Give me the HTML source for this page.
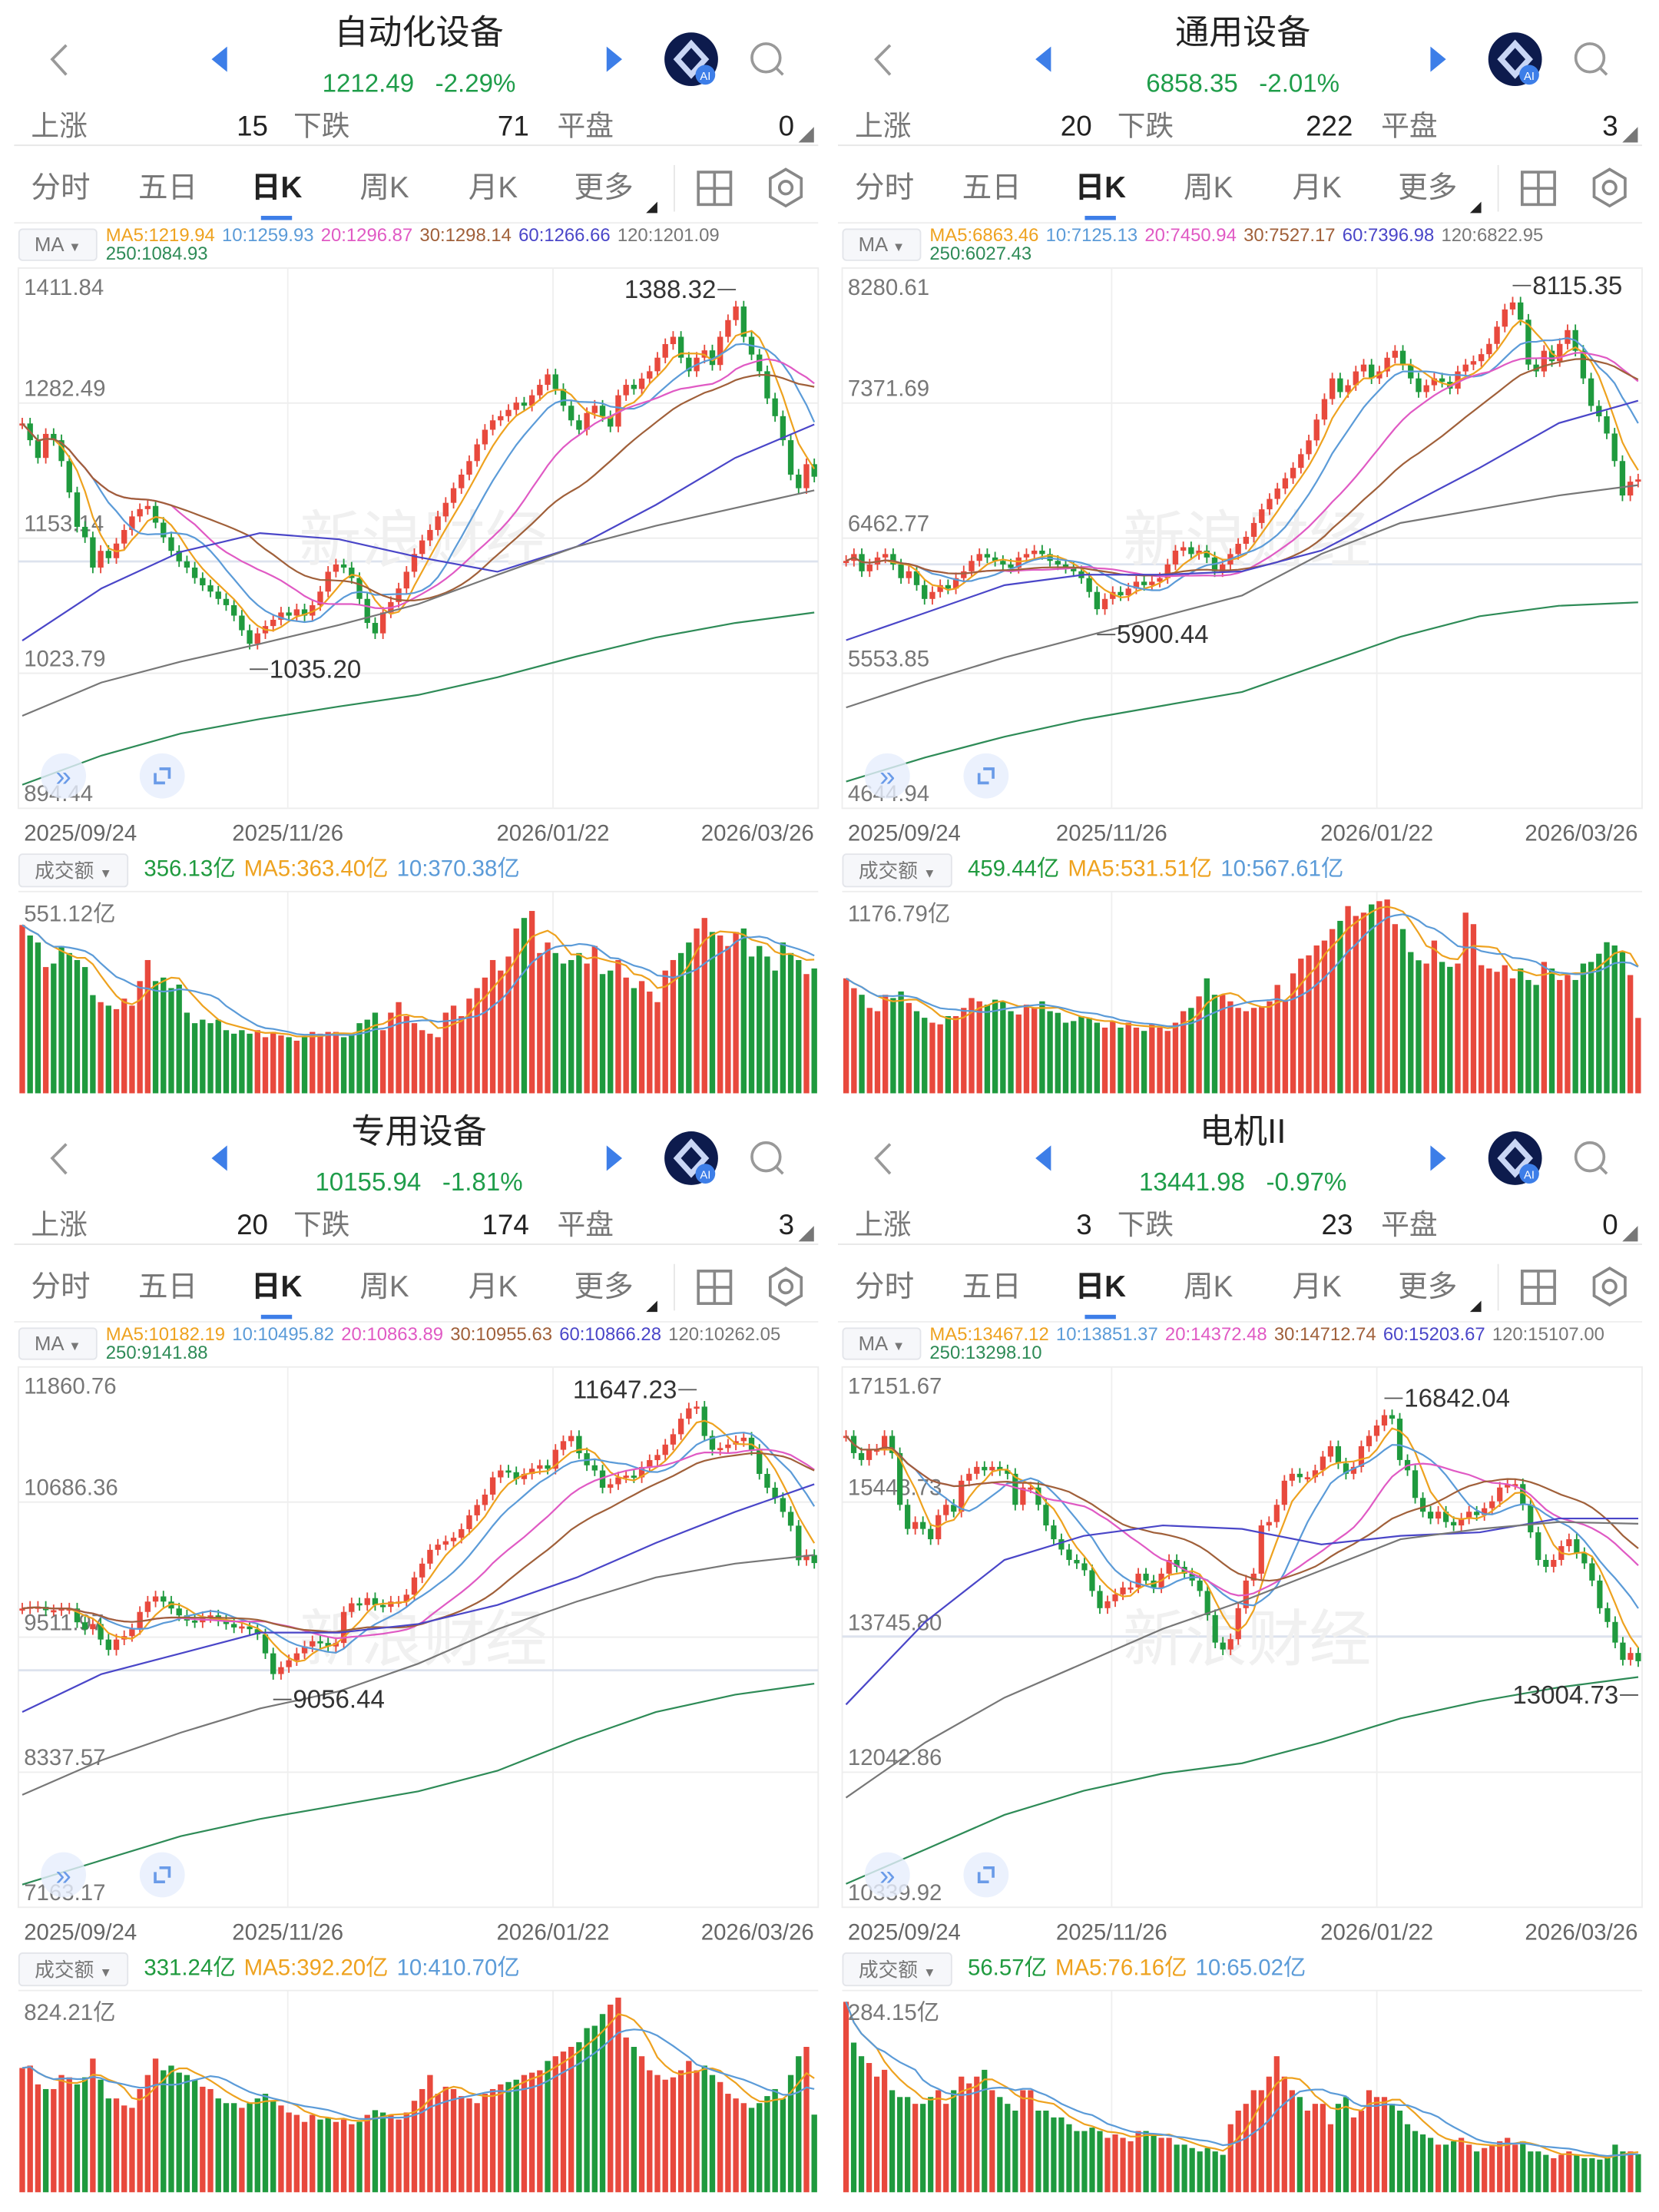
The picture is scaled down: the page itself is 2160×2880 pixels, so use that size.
<!DOCTYPE html>
<html><head><meta charset="utf-8">
<style>
html,body{margin:0;padding:0;background:#fff;}
body{width:2160px;height:2880px;overflow:hidden;}
#stage{position:absolute;left:0;top:0;width:1176px;height:1568px;transform:scale(1.83673);transform-origin:0 0;font-family:"Liberation Sans","Noto Sans CJK SC",sans-serif;}
.panel{position:absolute;width:584px;height:779px;}
.abs{position:absolute;white-space:nowrap;}
.title{left:147px;width:300px;top:8px;height:32px;line-height:32px;text-align:center;font-size:24px;color:#222;}
.price{left:147px;width:300px;top:48px;height:22px;line-height:22px;text-align:center;font-size:18px;color:#1f9d4a;}
.stat{top:77px;height:26px;line-height:26px;font-size:20px;color:#777;}
.num{top:77px;height:26px;line-height:26px;font-size:20px;color:#222;text-align:right;width:60px;}
.tab{top:120px;height:28px;line-height:28px;font-size:21px;color:#777;}
.leg{font-size:13px;left:75px;height:14px;line-height:14px;}
.leg span{margin-right:5px;}
.box{border:1px solid #e3e5ea;background:#f6f7fa;border-radius:3px;color:#777;font-size:14px;text-align:center;}
.vleg{top:606px;font-size:16px;left:102px;height:22px;line-height:22px;}
.vleg span{margin-right:6px;}
</style></head>
<body>
<div id="stage"></div>
<script>
// ===== Panel 1: 自动化设备 =====
const p1Closes=[1263,1247,1230,1253,1247,1227,1197,1164,1154,1125,1141,1134,1148,1161,1174,1181,1184,1168,1154,1141,1131,1125,1115,1108,1102,1095,1089,1079,1065,1052,1062,1069,1075,1082,1079,1085,1079,1089,1102,1121,1128,1125,1115,1095,1072,1062,1082,1092,1105,1121,1138,1151,1161,1174,1187,1201,1214,1227,1243,1257,1266,1270,1276,1283,1280,1290,1300,1310,1296,1280,1266,1257,1273,1280,1270,1260,1290,1300,1296,1306,1313,1326,1339,1346,1326,1313,1326,1333,1319,1346,1362,1375,1346,1329,1313,1287,1270,1247,1214,1201,1224,1212];
const p1Vol=[480,450,430,360,370,420,400,380,360,280,260,250,240,270,250,320,380,320,330,300,310,230,200,210,200,210,180,170,180,170,180,160,175,165,160,150,160,175,170,175,175,160,170,200,210,230,180,230,260,220,200,180,170,160,230,250,220,270,300,330,380,350,390,470,500,520,400,430,400,370,380,400,370,420,340,350,380,330,300,320,290,260,350,380,400,430,470,500,460,450,420,460,470,390,420,390,350,430,400,380,340,356];
const p1Ma60=[1055,1105,1140,1158,1152,1135,1121,1145,1185,1230,1262];
const p1Ma120=[983,1015,1035,1052,1070,1090,1118,1145,1165,1182,1199];
const p1Ma250=[917,945,966,980,992,1003,1020,1040,1058,1072,1082];
const p1YTicks=['1411.84','1282.49','1153.14','1023.79','894.44'];
const p1VolMax='551.12亿';
const p1Marks=['1388.32','1035.20'];
// ===== Panel 2: 通用设备 =====
const p2Closes=[6310,6356,6240,6286,6333,6356,6286,6194,6240,6147,6054,6101,6147,6124,6194,6240,6310,6356,6333,6310,6286,6263,6333,6356,6379,6356,6310,6286,6263,6240,6194,6101,5985,6054,6101,6078,6124,6170,6147,6170,6194,6286,6379,6402,6356,6379,6333,6240,6286,6356,6425,6472,6565,6657,6727,6797,6866,6936,7028,7121,7261,7399,7538,7446,7492,7585,7631,7538,7585,7677,7724,7631,7538,7446,7492,7538,7515,7469,7585,7631,7654,7701,7770,7886,8002,8049,7933,7631,7585,7724,7654,7770,7863,7724,7538,7353,7283,7167,6982,6750,6843,6858];
const p2Vol=[700,640,600,520,500,600,580,620,550,500,460,430,420,470,470,520,580,560,540,570,560,500,480,540,520,560,500,490,430,440,470,460,430,400,440,400,430,400,380,420,400,380,430,500,520,590,700,600,600,560,520,500,520,530,560,660,560,730,820,840,900,930,1000,1050,1140,1080,1100,1150,1170,1180,1030,1000,860,810,790,930,800,770,790,1100,1030,780,760,740,780,700,760,690,660,800,760,690,720,690,790,800,850,920,900,860,720,459];
const p2Ma60=[5776,5961,6147,6217,6217,6240,6379,6657,6936,7237,7388];
const p2Ma120=[5324,5498,5660,5799,5938,6077,6356,6565,6657,6750,6820];
const p2Ma250=[4825,4988,5127,5243,5336,5428,5614,5799,5938,6008,6031];
const p2YTicks=['8280.61','7371.69','6462.77','5553.85','4644.94'];
const p2VolMax='1176.79亿';
const p2Marks=['8115.35','5900.44'];
// ===== Panel 3: 专用设备 =====
const p3Closes=[9761,9776,9776,9746,9746,9761,9761,9641,9581,9626,9491,9401,9491,9521,9581,9731,9821,9866,9821,9761,9701,9656,9641,9686,9701,9656,9626,9596,9605,9581,9536,9371,9191,9251,9311,9371,9431,9476,9461,9431,9461,9731,9806,9791,9851,9791,9776,9821,9821,9881,10031,10151,10271,10316,10346,10376,10451,10571,10661,10751,10901,10961,10946,10886,10931,10976,11006,10976,11141,11216,11261,11111,11006,10961,10811,10841,10901,10916,10901,10991,11051,11096,11186,11276,11411,11501,11516,11261,11141,11156,11186,11216,11246,11141,10931,10811,10721,10601,10481,10181,10226,10156];
const p3Vol=[530,540,460,440,440,500,490,460,490,570,480,400,400,370,360,440,500,570,520,540,510,500,480,450,440,400,380,380,360,380,400,420,390,370,340,330,300,330,310,320,300,310,290,300,330,350,340,330,310,340,390,440,500,420,450,440,410,400,380,420,440,460,470,480,500,510,520,560,580,600,620,640,700,710,760,800,830,660,620,580,520,500,480,490,520,560,520,540,500,470,420,400,380,360,380,410,440,400,500,580,620,331];
const p3Ma60=[8861,9191,9371,9551,9551,9626,9791,10031,10331,10601,10841];
const p3Ma120=[8141,8441,8681,8891,9041,9281,9581,9821,10031,10151,10226];
const p3Ma250=[7361,7571,7781,7931,8051,8171,8351,8621,8861,9011,9107];
const p3YTicks=['11860.76','10686.36','9511.97','8337.57','7163.17'];
const p3VolMax='824.21亿';
const p3Marks=['11647.23','9056.44'];
// ===== Panel 4: 电机II =====
const p4Closes=[16283,16066,15979,16110,16110,16283,16066,15414,15110,15197,15110,14980,15284,15414,15327,15718,15805,15892,15849,15892,15849,15805,15414,15632,15632,15414,15154,14980,14850,14719,14676,14589,14328,14111,14198,14285,14372,14372,14546,14459,14372,14546,14719,14632,14546,14459,14328,14024,13677,13590,13720,14111,14459,14546,15154,15197,15414,15718,15805,15762,15762,15849,16022,16153,15936,15805,15892,16153,16283,16414,16544,16500,15979,15849,15501,15327,15241,15327,15197,15154,15241,15327,15284,15371,15458,15632,15675,15675,15414,15067,14719,14632,14719,14893,14980,14806,14676,14459,14111,13937,13677,13459,13546,13442];
const p4Vol=[280,220,200,190,170,180,150,140,140,130,130,140,150,130,150,170,160,170,180,150,140,130,120,150,150,120,120,110,110,100,90,90,95,90,80,85,80,75,90,90,85,80,80,70,70,65,60,65,60,55,100,120,130,150,150,170,200,170,150,140,120,130,130,100,130,140,110,120,150,140,140,130,120,100,90,85,80,70,70,75,80,70,60,65,70,75,80,70,75,60,60,55,50,55,60,55,50,50,48,50,70,60,60,56];
const p4Ma60=[12895,13937,14719,15023,15154,15110,14915,15023,15067,15241,15241];
const p4Ma120=[11722,12417,12982,13416,13851,14198,14589,14980,15110,15197,15175];
const p4Ma250=[10636,11070,11505,11809,12026,12156,12417,12721,12938,13112,13242];
const p4YTicks=['17151.67','15448.73','13745.80','12042.86','10339.92'];
const p4VolMax='284.15亿';
const p4Marks=['16842.04','13004.73'];
// shared
const dateTicks=['2025/09/24','2025/11/26','2026/01/22','2026/03/26'];

const panels=[
 {id:'p1',ox:0,oy:0,title:'自动化设备',price:'1212.49',chg:'-2.29%',up:'15',down:'71',flat:'0',
  ma:['MA5:1219.94','10:1259.93','20:1296.87','30:1298.14','60:1266.66','120:1201.09','250:1084.93'],
  vl:['356.13亿','MA5:363.40亿','10:370.38亿'],closes:p1Closes,vol:p1Vol,m60:p1Ma60,m120:p1Ma120,m250:p1Ma250,yt:p1YTicks,vmax:p1VolMax,marks:p1Marks,hiSide:'L',loSide:'R',cur:398},
 {id:'p2',ox:584,oy:0,title:'通用设备',price:'6858.35',chg:'-2.01%',up:'20',down:'222',flat:'3',
  ma:['MA5:6863.46','10:7125.13','20:7450.94','30:7527.17','60:7396.98','120:6822.95','250:6027.43'],
  vl:['459.44亿','MA5:531.51亿','10:567.61亿'],closes:p2Closes,vol:p2Vol,m60:p2Ma60,m120:p2Ma120,m250:p2Ma250,yt:p2YTicks,vmax:p2VolMax,marks:p2Marks,hiSide:'R',loSide:'R',cur:400},
 {id:'p3',ox:0,oy:779,title:'专用设备',price:'10155.94',chg:'-1.81%',up:'20',down:'174',flat:'3',
  ma:['MA5:10182.19','10:10495.82','20:10863.89','30:10955.63','60:10866.28','120:10262.05','250:9141.88'],
  vl:['331.24亿','MA5:392.20亿','10:410.70亿'],closes:p3Closes,vol:p3Vol,m60:p3Ma60,m120:p3Ma120,m250:p3Ma250,yt:p3YTicks,vmax:p3VolMax,marks:p3Marks,hiSide:'L',loSide:'R',cur:405},
 {id:'p4',ox:584,oy:779,title:'电机II',price:'13441.98',chg:'-0.97%',up:'3',down:'23',flat:'0',
  ma:['MA5:13467.12','10:13851.37','20:14372.48','30:14712.74','60:15203.67','120:15107.00','250:13298.10'],
  vl:['56.57亿','MA5:76.16亿','10:65.02亿'],closes:p4Closes,vol:p4Vol,m60:p4Ma60,m120:p4Ma120,m250:p4Ma250,yt:p4YTicks,vmax:p4VolMax,marks:p4Marks,hiSide:'R',loSide:'L',cur:381}
];
const MAC=['#eea21f','#5b9bd8','#e05ac4','#a0603a','#4a46c8','#777','#2e8b57'];
const RED='#e8493d',GREEN='#1f9a3e';
const NS='http://www.w3.org/2000/svg';
const stage=document.getElementById('stage');

function header(p){
 return `
 <svg class="abs" style="left:0;top:0" width="584" height="190">
  <polyline points="47,32 37,42 47,53" fill="none" stroke="#999" stroke-width="2"/>
  <polygon points="150,42 161,33 161,51" fill="#3d7ee8"/>
  <polygon points="441,42 430,33 430,51" fill="#3d7ee8"/>
  <g><circle cx="490" cy="42" r="19" fill="#0d1b4d"/><polygon points="490,31 500,42 490,53 480,42" fill="none" stroke="#c9d6f5" stroke-width="4"/><circle cx="500" cy="53" r="7" fill="#3d7ee8"/><text x="500" y="56.5" font-size="8" fill="#fff" text-anchor="middle">AI</text></g>
  <g><circle cx="543" cy="41" r="10" fill="none" stroke="#999" stroke-width="2"/><line x1="550" y1="48" x2="555" y2="53" stroke="#999" stroke-width="2"/></g>
  <polygon points="566,101 577,101 577,90" fill="#777"/>
  <line x1="10" y1="103" x2="580" y2="103" stroke="#e6e6e6"/>
  <polygon points="458,151 466,151 466,143" fill="#222"/>
  <line x1="478" y1="117" x2="478" y2="150" stroke="#e6e6e6"/>
  <g><rect x="495" y="122" width="23" height="23" fill="none" stroke="#888" stroke-width="2"/><line x1="506.5" y1="122" x2="506.5" y2="145" stroke="#888" stroke-width="2"/><line x1="495" y1="133.5" x2="518" y2="133.5" stroke="#888" stroke-width="2"/></g>
  <g><polygon points="557,120 568,126.5 568,139.5 557,146 546,139.5 546,126.5" fill="none" stroke="#888" stroke-width="2"/><circle cx="557" cy="133" r="4.5" fill="none" stroke="#888" stroke-width="2"/></g>
  <rect x="185" y="153" width="22" height="3" fill="#3d7ee8"/>
  <line x1="10" y1="158" x2="580" y2="158" stroke="#eeeeee"/>
 </svg>
 <div class="abs title">${p.title}</div>
 <div class="abs price">${p.price}&nbsp;&nbsp;&nbsp;${p.chg}</div>
 <div class="abs stat" style="left:22px">上涨</div>
 <div class="abs num" style="left:130px">${p.up}</div>
 <div class="abs stat" style="left:208px">下跌</div>
 <div class="abs num" style="left:315px">${p.down}</div>
 <div class="abs stat" style="left:395px">平盘</div>
 <div class="abs num" style="left:503px">${p.flat}</div>
 <div class="abs tab" style="left:22px">分时</div>
 <div class="abs tab" style="left:98px">五日</div>
 <div class="abs tab" style="left:178px;color:#222;font-weight:bold">日K</div>
 <div class="abs tab" style="left:255px">周K</div>
 <div class="abs tab" style="left:332px">月K</div>
 <div class="abs tab" style="left:407px">更多</div>
 <div class="abs box" style="left:13px;top:162px;width:54px;height:21px;line-height:21px">MA <span style="font-size:9px">▼</span></div>
 <div class="abs leg" style="top:160px">${p.ma.slice(0,6).map((t,i)=>`<span style="color:${MAC[i]}">${t}</span>`).join('')}</div>
 <div class="abs leg" style="top:173px;color:${MAC[6]}">${p.ma[6]}</div>
 <div class="abs box" style="left:13px;top:605px;width:76px;height:22px;line-height:22px">成交额 <span style="font-size:9px">▼</span></div>
 <div class="abs vleg"><span style="color:${GREEN}">${p.vl[0]}</span><span style="color:#eea21f">${p.vl[1]}</span><span style="color:#5b9bd8">${p.vl[2]}</span></div>
 `;
}

function mk(tag,attrs,parent){const e=document.createElementNS(NS,tag);for(const k in attrs)e.setAttribute(k,attrs[k]);parent.appendChild(e);return e;}
function movAvg(arr,k){const out=[];for(let i=0;i<arr.length;i++){let s=0,c=0;for(let j=Math.max(0,i-k+1);j<=i;j++){s+=arr[j];c++;}out.push(s/c);}return out;}

panels.forEach(p=>{
 const div=document.createElement('div');
 div.className='panel';div.style.left=p.ox+'px';div.style.top=p.oy+'px';
 
 
 div.innerHTML=header(p);
 stage.appendChild(div);
 const svg=document.createElementNS(NS,'svg');
 svg.setAttribute('width','584');svg.setAttribute('height','779');
 svg.setAttribute('style','position:absolute;left:0;top:0');
 
 
 div.appendChild(svg);
 const X0=13,X1=580,Y0=190,Y1=573,VY0=632,VY1=775;
 const pmax=parseFloat(p.yt[0]),pmin=parseFloat(p.yt[4]);
 const n=p.closes.length,w=(X1-X0)/n;
 const xs=i=>X0+(i+0.5)*w;
 const ys=v=>Y0+(pmax-v)/(pmax-pmin)*(Y1-Y0);
 const vmax=parseFloat(p.vmax);
 const vs=v=>VY1-Math.min(v/vmax,1.02)*(VY1-VY0-6);
 const g=mk('g',{},svg);
 
 
 mk('rect',{x:X0,y:Y0,width:X1-X0,height:Y1-Y0,fill:'none',stroke:'#ededed'},g);
 for(let k=1;k<4;k++){mk('line',{x1:X0,x2:X1,y1:Y0+k*(Y1-Y0)/4,y2:Y0+k*(Y1-Y0)/4,stroke:'#ededed'},g);}
 [204,392].forEach(x=>{mk('line',{x1:x,x2:x,y1:Y0,y2:Y1,stroke:'#efefef'},g);mk('line',{x1:x,x2:x,y1:VY0,y2:VY1,stroke:'#efefef'},g);});
 mk('line',{x1:X0,x2:X1,y1:VY0,y2:VY0,stroke:'#ededed'},g);
 mk('line',{x1:X0,x2:X1,y1:p.cur,y2:p.cur,stroke:'#dde3ee','stroke-width':1.5},g);
 const wm=mk('text',{x:300,y:398,'font-size':44,fill:'#f0f0f0','text-anchor':'middle'},svg);
 wm.textContent='新浪财经';
 
 
 p.yt.forEach((t,k)=>{
  const yy=k===0?Y0+19:Y0+k*(Y1-Y0)/4-5;
  const tx=mk('text',{x:17,y:yy,'font-size':16,fill:'#777'},svg);
  tx.textContent=t;
  
  
 });
 const dpos=[[17,'start'],[204,'middle'],[392,'middle'],[577,'end']];
 dateTicks.forEach((t,k)=>{
  const tx=mk('text',{x:dpos[k][0],y:596,'font-size':16,fill:'#666','text-anchor':dpos[k][1]},svg);
  tx.textContent=t;
  
  
 });
 const cg=mk('g',{},svg);
 
 
 for(let i=0;i<n;i++){
  const c=p.closes[i],o=i>0?p.closes[i-1]:c;
  const col=c>=o?RED:GREEN;
  const top=ys(Math.max(o,c)),bot=ys(Math.min(o,c));
  const ln=mk('line',{x1:xs(i),x2:xs(i),y1:top-4,y2:bot+4,stroke:col,'stroke-width':1},cg);
  
  const r=mk('rect',{x:xs(i)-w*0.36,y:top,width:w*0.72,height:Math.max(1.5,bot-top),fill:col},cg);
  
 }
 const lineFrom=(pts,color,name)=>{
  const pl=mk('polyline',{points:pts.map(q=>q[0].toFixed(1)+','+q[1].toFixed(1)).join(' '),fill:'none',stroke:color,'stroke-width':1.2},svg);
  
  
 };
 [5,10,20,30].forEach((k,j)=>{
  const m=movAvg(p.closes,k);
  lineFrom(m.map((v,i)=>[xs(i),ys(v)]),MAC[j],'ma'+k+'-line');
 });
 [[p.m60,4,'ma60-line'],[p.m120,5,'ma120-line'],[p.m250,6,'ma250-line']].forEach(([arr,ci,nm])=>{
  const step=(n-1)/(arr.length-1);
  lineFrom(arr.map((v,i)=>[xs(i*step),ys(v)]),MAC[ci],nm);
 });
 let hi=0,lo=0;p.closes.forEach((v,i)=>{if(v>p.closes[hi])hi=i;if(v<p.closes[lo])lo=i;});
 const mark=(idx,txt,side,dy,name)=>{
  const x=xs(idx),y=ys(p.closes[idx])+dy;
  const t=mk('text',{x:side==='L'?x-14:x+14,y:y,'font-size':18,fill:'#333','text-anchor':side==='L'?'end':'start'},svg);
  t.textContent=txt;
  
  
  mk('line',{x1:x,x2:side==='L'?x-13:x+13,y1:y-6,y2:y-6,stroke:'#555'},svg);
 };
 mark(hi,p.marks[0],p.hiSide,-6,'high-label');
 mark(lo,p.marks[1],p.loSide,p.loSide==='L'?30:24,'low-label');
 const b1=mk('circle',{cx:45,cy:550,r:16,fill:'#e6eefc',opacity:0.8},svg);
 
 
 const bt=mk('text',{x:45,y:557,'font-size':20,fill:'#6a9be8','text-anchor':'middle'},svg);bt.textContent='»';
 const b2=mk('circle',{cx:115,cy:550,r:16,fill:'#e6eefc',opacity:0.8},svg);
 
 
 mk('polyline',{points:'110,548 110,555 117,555',fill:'none',stroke:'#6a9be8','stroke-width':2},svg);
 mk('polyline',{points:'113,545 120,545 120,552',fill:'none',stroke:'#6a9be8','stroke-width':2},svg);
 const vg=mk('g',{},svg);
 
 
 for(let i=0;i<p.vol.length;i++){
  const c=p.closes[i],o=i>0?p.closes[i-1]:c;
  const col=c>=o?RED:GREEN;
  const y=vs(p.vol[i]);
  const r=mk('rect',{x:xs(i)-w*0.36,y:y,width:w*0.72,height:VY1-y,fill:col},vg);
  
 }
 lineFrom(movAvg(p.vol,5).map((v,i)=>[xs(i),vs(v)]),'#eea21f','volume-ma5-line');
 lineFrom(movAvg(p.vol,10).map((v,i)=>[xs(i),vs(v)]),'#5b9bd8','volume-ma10-line');
 const vt=mk('text',{x:17,y:653,'font-size':16,fill:'#777'},svg);
 vt.textContent=p.vmax;
 
 
});
</script>
</body></html>
